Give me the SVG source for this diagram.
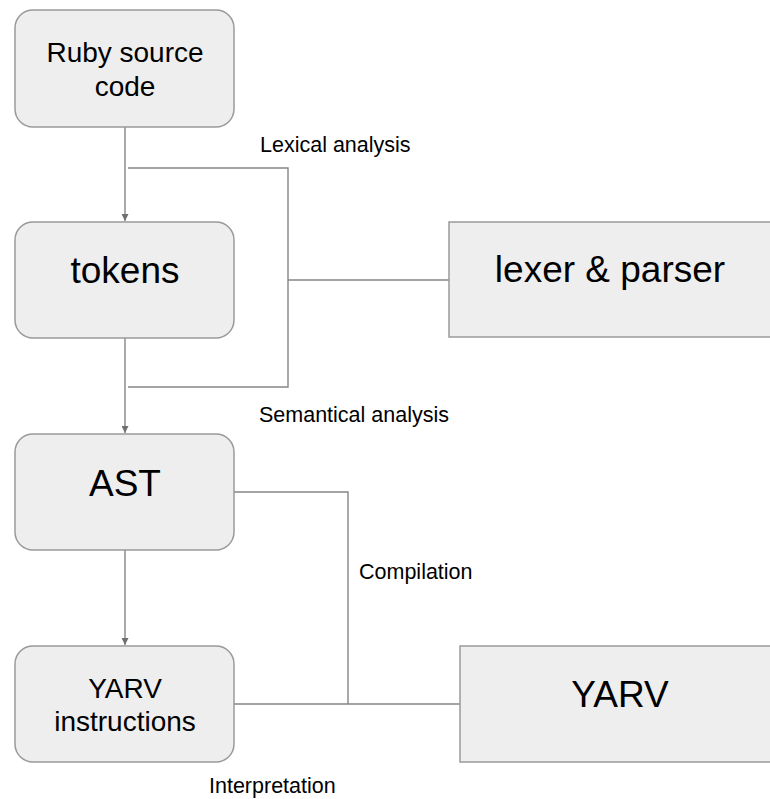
<svg xmlns="http://www.w3.org/2000/svg" width="770" height="799" viewBox="0 0 770 799">
  <defs>
    <marker id="arrow" markerUnits="userSpaceOnUse" markerWidth="8" markerHeight="7" refX="7" refY="3.5" orient="auto">
      <path d="M0,0 L7,3.5 L0,7 Z" fill="#707070"/>
    </marker>
    <style>
      .box { fill: #eeeeee; stroke: #9a9a9a; stroke-width: 1.5; }
      .wire { fill: none; stroke: #858585; stroke-width: 1.4; }
      .big { font-family: "Liberation Sans", Arial, sans-serif; font-size: 37px; fill: #000; text-anchor: middle; }
      .mid { font-family: "Liberation Sans", Arial, sans-serif; font-size: 28px; fill: #000; text-anchor: middle; }
      .lbl { font-family: "Liberation Sans", Arial, sans-serif; font-size: 21.5px; fill: #000; }
    </style>
  </defs>

  <rect width="770" height="799" fill="#ffffff"/>

  <!-- connectors -->
  <g id="connectors">
    <line class="wire" x1="125" y1="127" x2="125" y2="221" marker-end="url(#arrow)"/>
    <polyline class="wire" points="128,168 288,168 288,387 128,387"/>
    <line class="wire" x1="288" y1="280" x2="449" y2="280"/>
    <line class="wire" x1="125" y1="338" x2="125" y2="433" marker-end="url(#arrow)"/>
    <line class="wire" x1="125" y1="550" x2="125" y2="645" marker-end="url(#arrow)"/>
    <polyline class="wire" points="234,492 348,492 348,704"/>
    <line class="wire" x1="234" y1="704" x2="460" y2="704"/>
    <text class="lbl" x="260" y="152">Lexical analysis</text>
    <text class="lbl" x="259" y="422">Semantical analysis</text>
    <text class="lbl" x="359" y="579">Compilation</text>
    <text class="lbl" x="209" y="793">Interpretation</text>
  </g>

  <g id="ruby-source">
    <rect class="box" x="15" y="10" width="219" height="117" rx="18"/>
    <text class="mid" x="125" y="62">Ruby source</text>
    <text class="mid" x="125" y="96">code</text>
  </g>

  <g id="tokens">
    <rect class="box" x="15" y="222" width="219" height="116" rx="18"/>
    <text class="big" x="125" y="283">tokens</text>
  </g>

  <g id="lexer-parser">
    <rect class="box" x="449" y="222" width="330" height="115"/>
    <text class="big" x="610" y="282">lexer &amp; parser</text>
  </g>

  <g id="ast">
    <rect class="box" x="15" y="434" width="219" height="116" rx="18"/>
    <text class="big" x="125" y="496">AST</text>
  </g>

  <g id="yarv-instructions">
    <rect class="box" x="15" y="646" width="219" height="116" rx="18"/>
    <text class="mid" x="125" y="698">YARV</text>
    <text class="mid" x="125" y="731">instructions</text>
  </g>

  <g id="yarv">
    <rect class="box" x="460" y="646" width="320" height="116"/>
    <text class="big" x="620" y="707">YARV</text>
  </g>
</svg>
